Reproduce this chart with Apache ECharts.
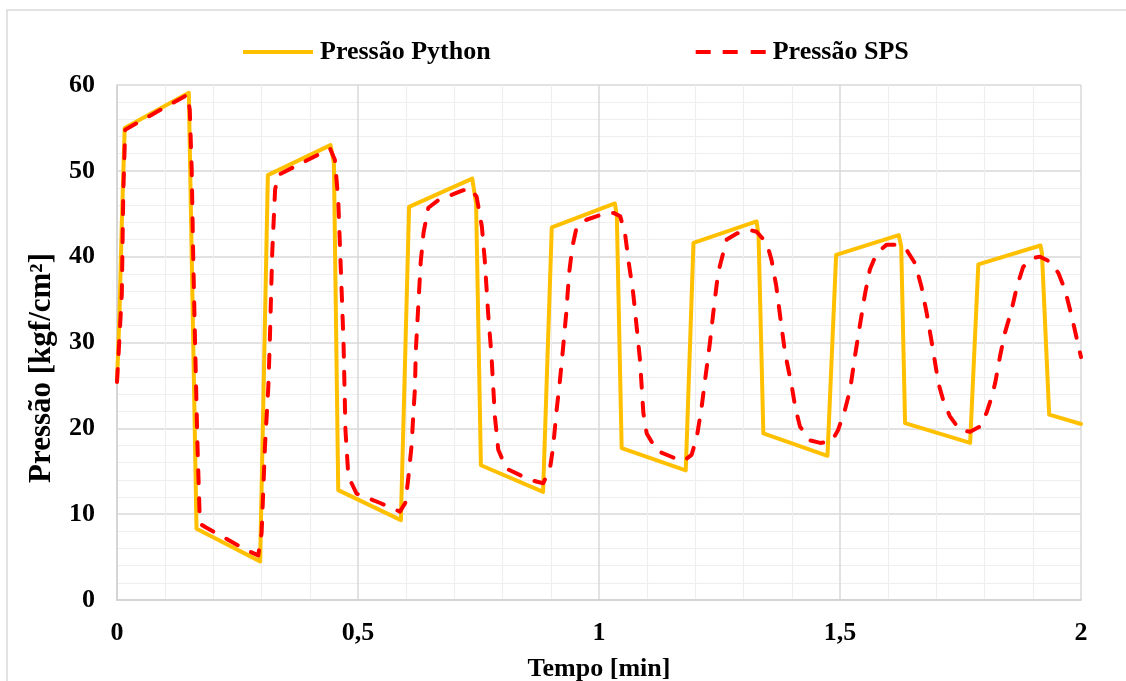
<!DOCTYPE html>
<html>
<head>
<meta charset="utf-8">
<script src="https://cdn.jsdelivr.net/npm/echarts@6/dist/echarts.min.js"></script>
<style>html,body{margin:0;padding:0;background:#fff;overflow:hidden;}#c{width:1126px;height:681px;}</style>
</head>
<body>
<div id="c"></div>
<script>
const pythonTime = [0, 0.005, 0.010, 0.016, 0.149, 0.165, 0.297, 0.313, 0.443, 0.450, 0.459, 0.589, 0.606, 0.737, 0.745, 0.755, 0.884, 0.902, 1.033, 1.037, 1.047, 1.180, 1.196, 1.327, 1.331, 1.341, 1.474, 1.492, 1.622, 1.627, 1.635, 1.770, 1.787, 1.916, 1.919, 1.934, 2.0];
const pythonPressure = [25.5, 33, 44, 55.0, 59.1, 8.3, 4.5, 49.5, 53.0, 50.9, 12.8, 9.3, 45.8, 49.1, 46.2, 15.7, 12.6, 43.4, 46.2, 44.7, 17.7, 15.1, 41.6, 44.1, 42.5, 19.4, 16.8, 40.2, 42.5, 41.2, 20.6, 18.3, 39.1, 41.3, 40.4, 21.6, 20.5];

const spsTime = [0, 0.003, 0.010, 0.013, 0.017, 0.141, 0.146, 0.151, 0.155, 0.158, 0.162, 0.167, 0.172, 0.183, 0.269, 0.293, 0.300, 0.307, 0.314, 0.317, 0.322, 0.328, 0.334, 0.411, 0.442, 0.452, 0.459, 0.466, 0.470, 0.474, 0.480, 0.497, 0.546, 0.587, 0.598, 0.604, 0.611, 0.615, 0.618, 0.620, 0.630, 0.636, 0.646, 0.667, 0.712, 0.732, 0.746, 0.757, 0.763, 0.770, 0.777, 0.784, 0.791, 0.808, 0.857, 0.884, 0.898, 0.905, 0.912, 0.919, 0.925, 0.932, 0.938, 0.945, 0.953, 0.974, 1.016, 1.030, 1.044, 1.054, 1.061, 1.071, 1.078, 1.085, 1.092, 1.099, 1.120, 1.154, 1.175, 1.192, 1.203, 1.213, 1.220, 1.230, 1.237, 1.247, 1.265, 1.286, 1.313, 1.327, 1.348, 1.358, 1.368, 1.375, 1.386, 1.400, 1.407, 1.417, 1.438, 1.459, 1.483, 1.496, 1.510, 1.521, 1.531, 1.541, 1.552, 1.562, 1.576, 1.597, 1.617, 1.638, 1.656, 1.669, 1.680, 1.694, 1.704, 1.714, 1.728, 1.749, 1.770, 1.790, 1.804, 1.815, 1.822, 1.832, 1.842, 1.856, 1.867, 1.880, 1.898, 1.915, 1.936, 1.953, 1.967, 1.981, 1.995, 2.0];
const spsPressure = [25.4, 28.4, 35.7, 47.4, 54.8, 58.7, 58.9, 57.1, 50.1, 40.4, 29.9, 17.9, 8.9, 8.5, 5.8, 5.2, 7.8, 17.9, 24.9, 30, 40.4, 47.8, 49.5, 51.7, 52.6, 51.3, 46.6, 36.1, 29.9, 19.8, 14.4, 12.4, 11.3, 10.3, 11.3, 14.0, 17.9, 21.8, 24.5, 29.1, 39.3, 42.8, 45.7, 46.6, 47.6, 48.0, 47.0, 43.5, 39.6, 33.4, 28.4, 21.4, 17.5, 15.3, 14.0, 13.6, 15.2, 17.9, 22.1, 25.6, 29.1, 33.4, 38.1, 41.2, 43.3, 44.3, 45.1, 45.1, 44.7, 42.7, 39.6, 35.7, 31.9, 28.0, 21.8, 19.4, 17.4, 16.6, 16.2, 16.9, 19.0, 22.5, 25.6, 29.9, 33.4, 38.1, 42.0, 42.7, 43.1, 42.9, 41.6, 39.6, 36.5, 33.4, 28.8, 24.9, 22.5, 20.2, 18.6, 18.3, 18.5, 19.8, 22.1, 24.5, 28.4, 31.9, 35.7, 38.5, 40.4, 41.4, 41.4, 40.8, 39.2, 36.5, 33.4, 28.8, 25.3, 23.3, 21.4, 19.8, 19.6, 20.2, 21.8, 23.7, 25.3, 28.4, 31.1, 33.8, 36.5, 38.8, 39.8, 40.0, 39.4, 38.1, 36.1, 33.0, 29.5, 28.3];

const seriesNames = ['Pressão Python', 'Pressão SPS'];
const xTitle = 'Tempo [min]';
const yTitle = 'Pressão [kgf/cm²]';

const pyData = pythonTime.map((t, i) => [t, pythonPressure[i]]);
const spsData = spsTime.map((t, i) => [t, spsPressure[i]]);

const font = 'Liberation Serif, Times New Roman, serif';
const el = document.getElementById('c');
const chart = echarts.init(el, null, {renderer: 'canvas', width: 1126, height: 681});
chart.setOption({
  backgroundColor: '#ffffff',
  animation: false,
  graphic: [
    {type: 'rect', shape: {x: 7, y: 10, width: 1300, height: 1000}, style: {fill: 'none', stroke: '#d9d9d9', lineWidth: 1.5}, silent: true, z: -10},
    {type: 'text', x: 42, y: 368, rotation: Math.PI / 2, style: {text: yTitle, font: 'bold 31px ' + font, fill: '#000', align: 'center', verticalAlign: 'middle'}}
  ],
  legend: {
    left: 243, top: 39, padding: 0,
    itemWidth: 70, itemHeight: 4, itemGap: 205,
    itemStyle: {borderWidth: 0},
    textStyle: {fontFamily: font, fontWeight: 'bold', fontSize: 26, color: '#000', padding: [0, 0, 0, 2]},
    data: [
      {name: seriesNames[0], icon: 'path://M0,0h70v4h-70z'},
      {name: seriesNames[1], icon: 'path://M0,0h15v4h-15z M27,0h15v4h-15z M55,0h15v4h-15z'}
    ]
  },
  grid: {left: 117, right: 45, top: 85, bottom: 81, containLabel: false, outerBoundsMode: 'none'},
  xAxis: {
    type: 'value', min: 0, max: 2, interval: 0.5,
    name: xTitle, nameLocation: 'middle', nameGap: 56,
    nameTextStyle: {fontFamily: font, fontWeight: 'bold', fontSize: 26, color: '#000'},
    axisLine: {show: true, lineStyle: {color: '#d0d0d0', width: 1.5}},
    axisTick: {show: false},
    axisLabel: {fontFamily: font, fontWeight: 'bold', fontSize: 26, color: '#000', margin: 20,
      formatter: v => String(v).replace('.', ',')},
    splitLine: {show: true, lineStyle: {color: '#d9d9d9', width: 1.5}},
    minorTick: {show: false, splitNumber: 5},
    minorSplitLine: {show: true, lineStyle: {color: '#eeeeee', width: 1.2}}
  },
  yAxis: {
    type: 'value', min: 0, max: 60, interval: 10,
    axisLine: {show: true, lineStyle: {color: '#d0d0d0', width: 1.5}},
    axisTick: {show: false},
    axisLabel: {fontFamily: font, fontWeight: 'bold', fontSize: 26, color: '#000', margin: 22},
    splitLine: {show: true, lineStyle: {color: '#d9d9d9', width: 1.5}},
    minorTick: {show: false, splitNumber: 5},
    minorSplitLine: {show: true, lineStyle: {color: '#eeeeee', width: 1.2}}
  },
  series: [
    {name: seriesNames[0], type: 'line', data: pyData, symbol: 'none', smooth: false,
      lineStyle: {color: '#FFC000', width: 4, join: 'round', cap: 'round'}, itemStyle: {color: '#FFC000'}, z: 2},
    {name: seriesNames[1], type: 'line', data: spsData, symbol: 'none', smooth: false,
      lineStyle: {color: '#FF0000', width: 4, type: [13, 15], cap: 'round', join: 'round'}, itemStyle: {color: '#FF0000'}, z: 3}
  ]
});
</script>
</body>
</html>
